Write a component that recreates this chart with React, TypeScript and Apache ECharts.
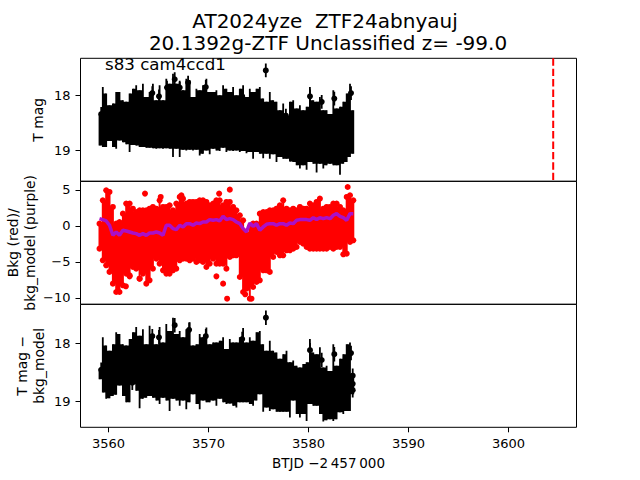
import React, { useEffect, useRef } from "react";
import * as echarts from "echarts";

const titleLine1 = "AT2024yze \u00a0ZTF24abnyauj";
const titleLine2 = "20.1392g-ZTF Unclassified z= -99.0";
const noteText = "s83 cam4ccd1";
const xTicks = [3560, 3570, 3580, 3590, 3600];
const magTicks = [18, 19];
const bkgTicks = [5, 0, -5, -10];
const eventTime = 3604.47;

const times = [
  3559.10, 3559.43, 3559.77, 3560.10, 3560.44, 3560.77, 3561.10, 3561.44, 3561.77, 3562.11,
  3562.44, 3562.77, 3563.11, 3563.44, 3563.78, 3564.11, 3564.44, 3564.78, 3565.11, 3565.45,
  3565.78, 3566.11, 3566.45, 3566.78, 3567.12, 3567.45, 3567.78, 3568.12, 3568.45, 3568.79,
  3569.12, 3569.45, 3569.79, 3570.12, 3570.46, 3570.79, 3571.12, 3571.46, 3571.79, 3572.13,
  3572.46, 3572.79, 3573.13, 3573.46, 3573.80, 3574.13, 3574.46, 3574.80, 3575.13, 3575.47,
  3575.80, 3576.13, 3576.47, 3576.80, 3577.14, 3577.47, 3577.80, 3578.14, 3578.47, 3578.81,
  3579.14, 3579.47, 3579.81, 3580.14, 3580.48, 3580.81, 3581.14, 3581.48, 3581.81, 3582.15,
  3582.48, 3582.81, 3583.15, 3583.48, 3583.82, 3584.15, 3584.48,
];

const magBright = [
  18.34, 17.85, 17.97, 18.18, 18.15, 17.94, 17.94, 18.09, 18.12, 17.97,
  17.88, 17.82, 17.91, 17.79, 18.03, 17.94, 17.79, 18.09, 17.82, 18.09,
  17.70, 17.79, 17.61, 17.79, 17.76, 17.91, 17.70, 17.73, 18.03, 17.88,
  17.91, 17.82, 17.70, 17.94, 17.94, 17.91, 18.00, 17.82, 17.88, 17.94,
  17.85, 18.00, 17.88, 17.82, 18.03, 17.88, 17.94, 17.88, 17.85, 18.06,
  18.12, 17.94, 18.09, 18.12, 18.27, 18.15, 18.37, 18.12, 18.09, 18.24,
  18.18, 18.27, 18.21, 17.85, 18.09, 18.12, 18.03, 18.27, 18.27, 18.34,
  17.91, 18.24, 18.21, 18.12, 17.97, 17.79, 18.27,
];
const magFaint = [
  18.91, 18.94, 18.94, 18.83, 18.94, 18.97, 18.82, 18.85, 18.89, 19.03,
  18.90, 18.91, 18.94, 18.94, 18.95, 18.95, 18.96, 18.97, 18.96, 18.97,
  18.96, 18.97, 19.12, 18.97, 19.12, 18.99, 19.00, 18.99, 19.00, 18.99,
  19.09, 19.06, 19.00, 19.07, 18.97, 19.00, 19.01, 18.95, 19.03, 19.00,
  19.01, 19.00, 19.03, 19.01, 19.05, 19.03, 19.15, 19.03, 19.06, 19.14,
  19.06, 19.15, 19.07, 19.21, 19.12, 19.15, 19.15, 19.20, 19.21, 19.27,
  19.33, 19.27, 19.35, 19.21, 19.24, 19.40, 19.24, 19.33, 19.27, 19.24,
  19.27, 19.27, 19.44, 19.24, 19.21, 19.12, 19.06,
];
const diffBright = [
  18.45, 17.90, 18.04, 18.13, 18.02, 17.81, 17.84, 18.02, 18.04, 17.93,
  17.81, 17.72, 17.87, 17.76, 18.02, 17.70, 17.84, 18.02, 17.72, 17.99,
  17.67, 17.79, 17.56, 17.84, 17.79, 17.90, 17.76, 17.64, 18.04, 18.02,
  17.84, 17.90, 17.73, 18.02, 17.99, 17.99, 17.96, 17.90, 18.10, 17.93,
  17.99, 17.99, 17.90, 17.74, 17.99, 17.90, 17.96, 17.81, 17.79, 18.02,
  18.13, 17.96, 18.13, 18.16, 18.27, 18.19, 18.13, 18.33, 18.30, 18.39,
  18.42, 18.36, 18.33, 17.93, 18.16, 18.19, 18.07, 18.42, 18.39, 18.48,
  18.02, 18.39, 18.27, 18.19, 18.02, 17.99, 18.53,
];
const diffFaint = [
  18.62, 18.85, 18.96, 18.95, 18.91, 18.89, 18.73, 18.91, 19.02, 19.02,
  18.71, 18.82, 19.12, 18.96, 18.94, 18.91, 18.94, 18.99, 19.05, 18.94,
  18.99, 19.17, 18.96, 18.99, 19.08, 18.99, 19.14, 19.02, 18.88, 19.05,
  19.14, 18.99, 19.02, 19.02, 18.99, 19.08, 18.96, 19.02, 19.05, 19.04,
  19.08, 19.11, 19.02, 19.02, 19.02, 19.05, 19.08, 18.99, 18.88, 19.18,
  19.11, 19.17, 19.14, 19.18, 19.18, 19.18, 19.18, 19.28, 18.99, 19.22,
  19.28, 19.22, 19.34, 19.05, 19.08, 19.08, 19.22, 19.35, 19.33, 19.31,
  19.34, 19.31, 19.19, 19.22, 19.17, 19.17, 18.88,
];
const bkgHigh = [
  0.30, 3.54, 4.93, 4.70, 2.62, 0.30, 0.53, 1.69, 3.08, 3.08,
  2.38, 1.92, 2.15, 2.15, 2.15, 2.38, 2.62, 2.38, 3.54, 2.62,
  2.62, 2.85, 2.15, 3.08, 4.01, 3.77, 3.08, 3.31, 3.31, 3.31,
  3.54, 3.54, 3.31, 2.85, 3.08, 3.54, 3.54, 2.85, 3.31, 3.31,
  2.62, 2.15, 1.46, 0.76, -1.09, -0.16, 0.30, 0.30, 1.69, 1.92,
  1.92, 2.15, 2.15, 2.38, 2.85, 3.54, 2.38, 2.15, 2.38, 2.15,
  2.62, 2.38, 2.38, 3.08, 2.85, 3.31, 3.77, 2.38, 2.62, 2.62,
  3.08, 3.08, 2.62, 2.15, 4.01, 4.24, 3.54,
];
const bkgLow = [
  -3.17, -4.79, -5.49, -6.41, -8.03, -9.19, -9.19, -8.26, -6.64, -6.88,
  -5.72, -5.95, -7.34, -6.64, -8.03, -7.57, -5.95, -4.56, -5.26, -6.18,
  -6.64, -6.64, -6.18, -5.95, -4.79, -4.56, -4.56, -4.79, -4.56, -5.02,
  -4.79, -5.02, -5.72, -5.26, -4.56, -5.26, -5.26, -5.26, -5.95, -4.33,
  -4.10, -4.10, -7.11, -9.19, -8.73, -10.12, -8.50, -7.80, -7.57, -6.18,
  -6.18, -6.41, -4.33, -3.63, -4.10, -4.10, -3.40, -3.40, -3.17, -2.94,
  -2.25, -2.48, -2.94, -3.17, -3.17, -3.17, -3.17, -3.17, -3.17, -2.94,
  -3.17, -2.94, -2.94, -3.96, -3.87, -2.25, -2.01,
];
const bkgModel = [
  0.99, 0.86, 0.67, 0.07, -1.32, -0.86, -1.32, -0.63, -0.72, -0.86,
  -1.0, -1.09, -1.32, -1.09, -1.32, -1.0, -1.0, -0.86, -1.0, -1.32,
  0.07, 0.07, -0.39, -0.53, 0.07, -0.16, 0.30, 0.30, 0.07, 0.39,
  0.30, 0.53, 0.53, 0.86, 0.76, 0.86, 0.67, 1.32, 0.86, 0.99,
  0.86, 0.53, 0.30, -0.39, -0.86, 0.39, -0.07, 0.30, -0.63, -0.16,
  0.21, 0.30, 0.30, 0.07, 0.30, 0.30, 0.07, 0.39, 0.30, 0.76,
  0.86, 0.86, 0.86, 0.76, 1.13, 0.86, 1.13, 0.99, 1.13, 0.99,
  1.46, 1.69, 1.32, 1.13, 0.76, 1.69, 1.69,
];

const magPointTimes = [3575.73, 3564.38, 3565.05, 3565.85, 3566.62, 3567.12, 3567.96, 3569.73, 3573.37, 3580.15, 3581.32, 3582.58, 3584.25, 3559.27, 3577.74];
const magPoints = [17.55, 17.96, 18.02, 17.86, 17.71, 17.86, 17.77, 17.85, 18.02, 18.02, 18.12, 18.06, 17.96, 18.34, 18.37];
const diffPointTimes = [3575.74, 3566.62, 3564.38, 3565.05, 3568.06, 3569.73, 3573.37, 3580.15, 3582.58, 3584.25, 3581.32, 3577.74, 3559.27, 3584.42, 3584.42, 3584.42, 3562.38];
const diffPoints = [17.56, 17.69, 17.88, 17.90, 17.77, 17.88, 17.93, 18.12, 18.19, 18.17, 18.29, 18.38, 18.46, 18.56, 18.70, 18.81, 18.68];
const pointErrors = [0.125, 0.125];
const bkgOutlierTimes = [3563.65, 3565.22, 3567.29, 3571.06, 3572.13, 3583.92, 3570.79, 3571.46, 3571.86, 3573.67, 3574.30, 3562.11, 3561.74, 3563.11];
const bkgOutliers = [4.47, 4.01, 4.24, 4.47, 5.02, 5.39, -7.02, -8.03, -10.12, -9.51, -10.12, -7.02, -8.40, -7.34];

const FONT = "DejaVu Sans";
const X_MIN = 3557.2;
const X_MAX = 3606.8;

function columnSeries(idx: number, data: number[][], color: string, width: number) {
  return {
    type: "custom", xAxisIndex: idx, yAxisIndex: idx, silent: true, clip: true,
    encode: { x: 0, y: [1, 2] }, data,
    renderItem: (_: any, api: any) => {
      const a = api.coord([api.value(0), api.value(1)]);
      const b = api.coord([api.value(0), api.value(2)]);
      return { type: "line", shape: { x1: a[0], y1: a[1], x2: b[0], y2: b[1] }, style: { stroke: color, lineWidth: width } };
    },
  };
}
// Solid mass between neighbouring columns: reaches as far as the shorter of the two.
function fillSeries(idx: number, top: number[], bottom: number[], color: string) {
  const data = times.slice(0, -1).map((t, i) => {
    const lo = Math.min(top[i], bottom[i]);
    const hi = Math.max(top[i], bottom[i]);
    const lo2 = Math.min(top[i + 1], bottom[i + 1]);
    const hi2 = Math.max(top[i + 1], bottom[i + 1]);
    return [t, times[i + 1], Math.max(lo, lo2), Math.min(hi, hi2)];
  });
  return {
    type: "custom", xAxisIndex: idx, yAxisIndex: idx, silent: true, clip: true,
    encode: { x: [0, 1], y: [2, 3] }, data,
    renderItem: (_: any, api: any) => {
      const a = api.coord([api.value(0), api.value(2)]);
      const b = api.coord([api.value(1), api.value(3)]);
      const y = Math.min(a[1], b[1]);
      return { type: "rect", shape: { x: a[0], y, width: b[0] - a[0], height: Math.abs(b[1] - a[1]) }, style: { fill: color } };
    },
  };
}
function dotSeries(idx: number, data: number[][], color: string, size: number, z = 3) {
  return { type: "scatter", xAxisIndex: idx, yAxisIndex: idx, silent: true, symbolSize: size, itemStyle: { color, opacity: 1 }, data, z };
}
const zip = (a: number[], b: number[]) => a.map((v, i) => [v, b[i]]);
const zip3 = (a: number[], b: number[], c: number[]) => a.map((v, i) => [v, b[i], c[i]]);

const gridFor = (top: number) => ({ left: 80.5, width: 496, top: top + 0.3, height: 123, show: true, borderColor: "#000", borderWidth: 1, backgroundColor: "transparent", outerBoundsMode: "none" });
const xAxisFor = (gridIndex: number, labelled: boolean) => ({
  type: "value", gridIndex, min: X_MIN, max: X_MAX, splitLine: { show: false }, axisLine: { show: false },
  axisTick: { show: labelled, length: 5, lineStyle: { color: "#000", width: 1 }, customValues: xTicks },
  axisLabel: { show: labelled, color: "#000", fontFamily: FONT, fontSize: 13, margin: 10, customValues: xTicks, formatter: (v: number) => String(v) },
  name: labelled ? "BTJD \u22122\u2009457\u2009000" : "", nameLocation: "middle", nameGap: 29,
  nameTextStyle: { color: "#000", fontFamily: FONT, fontSize: 13.5 },
});
const yAxisFor = (gridIndex: number, min: number, max: number, ticks: number[], inverse: boolean, name: string, nameGap: number) => ({
  type: "value", gridIndex, min, max, inverse, splitLine: { show: false }, axisLine: { show: false },
  axisTick: { show: true, length: 5, lineStyle: { color: "#000", width: 1 }, customValues: ticks },
  axisLabel: { color: "#000", fontFamily: FONT, fontSize: 13, margin: 10, customValues: ticks, formatter: (v: number) => String(v).replace("-", "\u2212") },
  name, nameLocation: "middle", nameRotate: 90, nameGap, nameMoveOverlap: false,
  nameTextStyle: { color: "#000", fontFamily: FONT, fontSize: 13.9, lineHeight: 17 },
});
const titleFor = (text: string, left: number, top: number) => ({
  text, left, top, textAlign: "center",
  textStyle: { color: "#000", fontFamily: FONT, fontSize: 20, fontWeight: "normal", lineHeight: 22 },
});

export default function App() {
  const ref = useRef<HTMLDivElement>(null);
  useEffect(() => {
    const chart = echarts.init(ref.current!, undefined, { renderer: "svg" });
    chart.setOption({
      animation: false,
      backgroundColor: "#fff",
      title: [titleFor(titleLine1, 320, 5), titleFor(titleLine2, 323, 27)],
      graphic: [{ type: "text", x: 105, y: 56, style: { text: noteText, fontFamily: FONT, fontSize: 16.67, fill: "#000" }, z: 20 }],
      grid: [gridFor(58), gridFor(181), gridFor(304)],
      xAxis: [xAxisFor(0, false), xAxisFor(1, false), xAxisFor(2, true)],
      yAxis: [
        yAxisFor(0, 17.33, 19.56, magTicks, true, "T mag", 34),
        yAxisFor(1, -10.9, 6.18, bkgTicks, false, "Bkg (red)/\nbkg_model (purple)", 42),
        yAxisFor(2, 17.33, 19.45, magTicks, true, "T mag \u2212\nbkg_model", 33.5),
      ],
      series: [
        fillSeries(0, magBright, magFaint, "#000"),
        columnSeries(0, zip3(times, magBright, magFaint), "#000", 1.8),
        columnSeries(0, magPointTimes.map((t, i) => [t, magPoints[i] - pointErrors[0], magPoints[i] + pointErrors[1]]), "#000", 1.8),
        dotSeries(0, zip(magPointTimes, magPoints), "#000", 6),
        {
          type: "line", xAxisIndex: 0, yAxisIndex: 0, silent: true, symbol: "none",
          data: [[eventTime, 17.33], [eventTime, 19.56]],
          lineStyle: { color: "#f00", width: 2, type: [7.4, 3] },
        },
        fillSeries(1, bkgHigh, bkgLow, "#f00"),
        columnSeries(1, zip3(times, bkgHigh, bkgLow), "#f00", 2),
        dotSeries(1, zip(times, bkgHigh), "#f00", 6),
        dotSeries(1, zip(times, bkgLow), "#f00", 6),
        dotSeries(1, zip(bkgOutlierTimes, bkgOutliers), "#f00", 6),
        {
          type: "line", xAxisIndex: 1, yAxisIndex: 1, silent: true, symbol: "none", z: 5,
          data: zip(times, bkgModel), lineStyle: { color: "#aa10c8", width: 3.5 },
        },
        fillSeries(2, diffBright, diffFaint, "#000"),
        columnSeries(2, zip3(times, diffBright, diffFaint), "#000", 1.8),
        columnSeries(2, diffPointTimes.map((t, i) => [t, diffPoints[i] - pointErrors[0], diffPoints[i] + pointErrors[1]]), "#000", 1.8),
        dotSeries(2, zip(diffPointTimes, diffPoints), "#000", 6),
      ],
    });
    return () => chart.dispose();
  }, []);
  return <div ref={ref} style={{ position: "fixed", left: 0, top: 0, width: 640, height: 480 }} />;
}
